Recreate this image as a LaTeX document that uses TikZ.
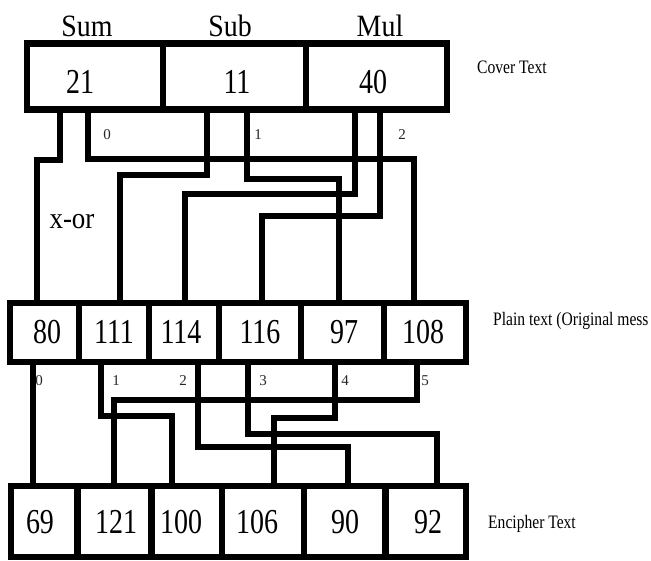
\documentclass[tikz,border=0pt]{standalone}
\usepackage{fontspec}
\setmainfont{Liberation Serif}
\newfontfamily\numf{Liberation Serif}[FakeStretch=0.8]
\newfontfamily\headf{Liberation Serif}[FakeStretch=0.9]
\newfontfamily\smallf{Liberation Serif}[FakeStretch=0.82]
\begin{document}
\begin{tikzpicture}[x=1pt,y=-1pt,
  cell/.style={draw, line width=6.5pt, rectangle, inner sep=0pt, outer sep=0pt},
  wire/.style={line width=5.5pt, line join=miter, line cap=butt},
  num/.style={anchor=base, inner sep=0pt, font=\numf\fontsize{35}{40}\selectfont},
  head/.style={anchor=base, inner sep=0pt, font=\headf\fontsize{31}{36}\selectfont},
  side/.style={anchor=base west, inner sep=0pt, font=\smallf\fontsize{19}{22}\selectfont},
  idx/.style={anchor=base, inner sep=0pt, font=\fontsize{15}{17}\selectfont, text=black!85},
]
\useasboundingbox (0,0) rectangle (651,560);
\clip (0,0) rectangle (651,560);

% ---- cells: cover text
\node[cell, minimum width=136pt, minimum height=66pt] (t1) at (95,76.5) {};
\node[cell, minimum width=143pt, minimum height=66pt] (t2) at (234.5,76.5) {};
\node[cell, minimum width=141pt, minimum height=66pt] (t3) at (376.5,76.5) {};
% ---- cells: plain text
\node[cell, minimum width=69pt, minimum height=59pt] (p1) at (44.5,332.5) {};
\node[cell, minimum width=70pt, minimum height=59pt] (p2) at (114,332.5) {};
\node[cell, minimum width=70pt, minimum height=59pt] (p3) at (184,332.5) {};
\node[cell, minimum width=82pt, minimum height=59pt] (p4) at (260,332.5) {};
\node[cell, minimum width=83pt, minimum height=59pt] (p5) at (342.5,332.5) {};
\node[cell, minimum width=82pt, minimum height=59pt] (p6) at (425,332.5) {};
% ---- cells: encipher text
\node[cell, minimum width=66.5pt, minimum height=71pt] (b1) at (44.25,521.5) {};
\node[cell, minimum width=74pt, minimum height=71pt] (b2) at (114.5,521.5) {};
\node[cell, minimum width=70.5pt, minimum height=71pt] (b3) at (186.75,521.5) {};
\node[cell, minimum width=82pt, minimum height=71pt] (b4) at (263,521.5) {};
\node[cell, minimum width=81.5pt, minimum height=71pt] (b5) at (344.75,521.5) {};
\node[cell, minimum width=80.5pt, minimum height=71pt] (b6) at (425.75,521.5) {};

% ---- wires: cover text -> plain text
\draw[wire] (t1.south -| 60,0) |- (37,160) -- (p1.north -| 37,0);
\draw[wire] (t1.south -| 88,0) |- (414,159) -- (p6.north -| 414,0);
\draw[wire] (t2.south -| 207,0) |- (120,175) -- (p2.north -| 120,0);
\draw[wire] (t2.south -| 247,0) |- (339,179) -- (p5.north -| 339,0);
\draw[wire] (t3.south -| 355,0) |- (185,194) -- (p3.north -| 185,0);
\draw[wire] (t3.south -| 380,0) |- (262,216) -- (p4.north -| 262,0);

% ---- wires: plain text -> encipher text
\draw[wire] (p1.south -| 33,0) -- (b1.north -| 33,0);
\draw[wire] (p2.south -| 101,0) |- (172,416) -- (b3.north -| 172,0);
\draw[wire] (p3.south -| 198,0) |- (348,447) -- (b5.north -| 348,0);
\draw[wire] (p4.south -| 248,0) |- (437,434) -- (b6.north -| 437,0);
\draw[wire] (p5.south -| 335,0) |- (274,418) -- (b4.north -| 274,0);
\draw[wire] (p6.south -| 417,0) |- (114,400) -- (b2.north -| 114,0);

% ---- numbers
\node[num] (n21) at (80,93) {21};
\node[num] (n11) at (237,93) {11};
\node[num] (n40) at (373,93) {40};
\node[num] (n80) at (47,343) {80};
\node[num] (n111) at (114,343) {111};
\node[num] (n114) at (181,343) {114};
\node[num] (n116) at (260,343) {116};
\node[num] (n97) at (344,343) {97};
\node[num] (n108) at (423,343) {108};
\node[num] (n69) at (40,533) {69};
\node[num] (n121) at (116,533) {121};
\node[num] (n100) at (181,533) {100};
\node[num] (n106) at (257,533) {106};
\node[num] (n90) at (345,533) {90};
\node[num] (n92) at (428,533) {92};

% ---- headings
\node[head] (hsum) at (87,36) {Sum};
\node[head] (hsub) at (230,36) {Sub};
\node[head] (hmul) at (380,36) {Mul};
\node[anchor=base, inner sep=0pt, font=\headf\fontsize{30}{34}\selectfont] (xor) at (72,228) {x-or};

% ---- side labels
\node[side] (lcover) at (477,73) {Cover Text};
\node[side] (lplain) at (493,325) {Plain text (Original mess};
\node[side] (lenc) at (488,528) {Encipher Text};

% ---- index labels
\node[idx] (i0t) at (107,139) {0};
\node[idx] (i1t) at (258,139) {1};
\node[idx] (i2t) at (402,139) {2};
\node[idx] (i0b) at (39,385) {0};
\node[idx] (i1b) at (116,385) {1};
\node[idx] (i2b) at (183,385) {2};
\node[idx] (i3b) at (263,385) {3};
\node[idx] (i4b) at (345,385) {4};
\node[idx] (i5b) at (425,385) {5};
\end{tikzpicture}
\end{document}
